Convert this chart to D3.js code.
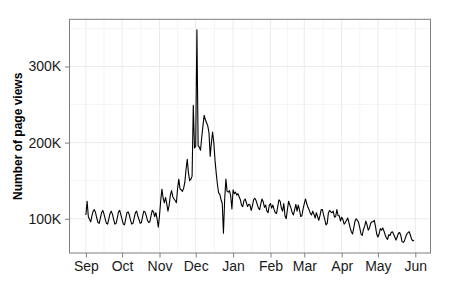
<!DOCTYPE html>
<html>
<head>
<meta charset="utf-8">
<script src="https://cdn.jsdelivr.net/npm/d3@7"></script>
<style>
  body { margin: 0; background: #fff; }
  text { font-family: "Liberation Sans", Arial, Helvetica, sans-serif; }
</style>
</head>
<body>
<div id="chart"></div>
<script>
// Daily page views (thousands), one row per week, starting 1 Sep
const startDate = new Date(Date.UTC(2010, 8, 1));
const pageViews = [
  105, 123, 103, 99, 96, 104, 110,
  112, 108, 101, 95, 94, 101, 108,
  111, 106, 100, 94, 93, 100, 107,
  110, 106, 99, 93, 94, 101, 109,
  111, 105, 99, 93, 92, 100, 108,
  109, 105, 98, 93, 94, 101, 108,
  110, 104, 99, 94, 95, 103, 110,
  109, 104, 98, 95, 96, 104, 111,
  109, 103, 108, 100, 89, 104, 124,
  139, 127, 121, 128, 120, 110, 118,
  131, 137, 129, 126, 124, 121, 140,
  152, 139, 138, 136, 140, 148, 165,
  178, 160, 150, 152, 156, 249, 193,
  195, 348, 196, 194, 190, 207, 222,
  236, 230, 226, 222, 213, 182, 200,
  214, 200, 177, 160, 145, 134, 132,
  125, 120, 81, 125, 152, 136, 135,
  137, 130, 113, 138, 133, 135, 131,
  133, 129, 125, 118, 116, 124, 126,
  121, 116, 119, 118, 111, 117, 125,
  127, 124, 119, 114, 112, 120, 126,
  122, 115, 118, 110, 108, 118, 120,
  114, 118, 112, 108, 107, 116, 125,
  123, 114, 110, 120, 104, 100, 112,
  123, 118, 114, 108, 105, 112, 119,
  110, 118, 112, 103, 104, 113, 120,
  126, 120, 115, 112, 107, 105, 110,
  106, 101, 108, 103, 98, 104, 112,
  112, 105, 99, 92, 94, 108, 111,
  109, 108, 110, 102, 103, 112, 104,
  104, 97, 102, 99, 93, 95, 98,
  101, 95, 88, 83, 80, 88, 97,
  100, 98, 95, 88, 80, 78, 86,
  90, 97, 92, 85, 88, 94, 96,
  96, 98, 90, 80, 76, 80, 87,
  85, 88, 84, 79, 75, 73, 79,
  78, 82, 83, 80, 76, 72, 76,
  81, 82, 78, 70, 69, 71, 76,
  80, 82, 83, 78, 73, 71, 72
];
const monthLabels = ['Sep', 'Oct', 'Nov', 'Dec', 'Jan', 'Feb', 'Mar', 'Apr', 'May', 'Jun'];
const yTicks = [100, 200, 300];
const yMinorTicks = [50, 150, 250, 350];

const data = pageViews.map((v, i) => ({ date: d3.utcDay.offset(startDate, i), views: v }));

// Set dimensions
const margin = { top: 19.3, right: 19.5, bottom: 47, left: 69.5 };
const width = 450 - margin.left - margin.right;
const height = 300 - margin.top - margin.bottom;

const svg = d3.select('#chart')
  .append('svg')
  .attr('width', 450)
  .attr('height', 300)
  .append('g')
  .attr('transform', `translate(${margin.left},${margin.top})`);

// Scales with ggplot-like 5% expansion
const [x0, x1] = d3.extent(data, d => d.date);
const xPad = (x1 - x0) * 0.05;
const x = d3.scaleUtc()
  .domain([new Date(+x0 - xPad), new Date(+x1 + xPad)])
  .range([0, width]);

const [y0, y1] = d3.extent(data, d => d.views);
const yPad = (y1 - y0) * 0.05;
const y = d3.scaleLinear()
  .domain([y0 - yPad, y1 + yPad])
  .range([height, 0]);

const monthTicks = d3.utcMonth.range(startDate, d3.utcMonth.offset(startDate, monthLabels.length));
const xMinor = d3.pairs(monthTicks).map(([a, b]) => new Date((+a + +b) / 2));

// Grid
const grid = svg.append('g');
grid.selectAll('.ymin').data(yMinorTicks.filter(v => v > y.domain()[0] && v < y.domain()[1]))
  .enter().append('line')
  .attr('x1', 0).attr('x2', width)
  .attr('y1', d => y(d)).attr('y2', d => y(d))
  .attr('stroke', '#f5f5f5').attr('stroke-width', 1);
grid.selectAll('.xmin').data(xMinor)
  .enter().append('line')
  .attr('x1', d => x(d)).attr('x2', d => x(d))
  .attr('y1', 0).attr('y2', height)
  .attr('stroke', '#f5f5f5').attr('stroke-width', 1);
grid.selectAll('.ymaj').data(yTicks)
  .enter().append('line')
  .attr('x1', 0).attr('x2', width)
  .attr('y1', d => y(d)).attr('y2', d => y(d))
  .attr('stroke', '#ebebeb').attr('stroke-width', 1);
grid.selectAll('.xmaj').data(monthTicks)
  .enter().append('line')
  .attr('x1', d => x(d)).attr('x2', d => x(d))
  .attr('y1', 0).attr('y2', height)
  .attr('stroke', '#ebebeb').attr('stroke-width', 1);

// Line
svg.append('path')
  .datum(data)
  .attr('fill', 'none')
  .attr('stroke', '#000')
  .attr('stroke-width', 1.1)
  .attr('stroke-linejoin', 'round')
  .attr('d', d3.line().x(d => x(d.date)).y(d => y(d.views)));

// Panel border
svg.append('rect')
  .attr('width', width)
  .attr('height', height)
  .attr('fill', 'none')
  .attr('stroke', '#7f7f7f')
  .attr('stroke-width', 1);

// X axis
const xAxis = svg.append('g')
  .attr('transform', `translate(0,${height})`)
  .call(d3.axisBottom(x)
    .tickValues(monthTicks)
    .tickFormat((d, i) => monthLabels[i])
    .tickSize(4.5)
    .tickPadding(3.6));

// Y axis
const yAxis = svg.append('g')
  .call(d3.axisLeft(y)
    .tickValues(yTicks)
    .tickFormat(d => d + 'K')
    .tickSize(4.5)
    .tickPadding(3.8));

[xAxis, yAxis].forEach(g => {
  g.select('.domain').remove();
  g.selectAll('.tick line').attr('stroke', '#7f7f7f');
  g.selectAll('.tick text')
    .attr('fill', '#1a1a1a')
    .style('font-size', '14px')
    .style('font-family', '"Liberation Sans", Arial, Helvetica, sans-serif');
});

// Y axis label
svg.append('text')
  .attr('transform', `translate(${22 - margin.left},${136.3 - margin.top}) rotate(-90)`)
  .attr('text-anchor', 'middle')
  .style('font-size', '12px')
  .style('font-weight', 'bold')
  .text('Number of page views');
</script>
</body>
</html>
